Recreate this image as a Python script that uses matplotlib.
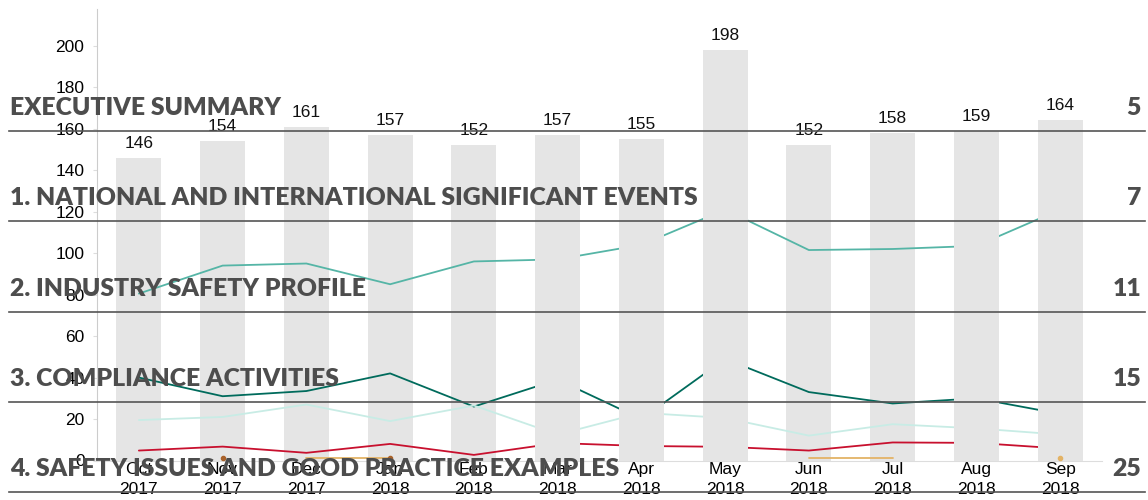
import numpy as np
import matplotlib
matplotlib.use("Agg")
import matplotlib.pyplot as plt
from matplotlib.lines import Line2D

# monthly data, Oct 2017 - Sep 2018
months = ["Oct\n2017", "Nov\n2017", "Dec\n2017", "Jan\n2018", "Feb\n2018", "Mar\n2018",
          "Apr\n2018", "May\n2018", "Jun\n2018", "Jul\n2018", "Aug\n2018", "Sep\n2018"]
totals = [146, 154, 161, 157, 152, 157, 155, 198, 152, 158, 159, 164]

teal = [80.5, 94, 95, 85, 96, 97, 104, 121, 101.5, 102, 103.5, 121]
dark_teal = [40, 31, 33.5, 42, 26, 39, 20, 49, 33, 27.5, 30, 22.5]
light_teal = [19.5, 21, 27, 19, 26.5, 12.5, 23, 20.5, 12, 17.5, 15.5, 12.5]
red = [4.8, 6.7, 3.7, 8, 2.7, 8.4, 7, 6.6, 4.8, 8.7, 8.5, 5.8]
gold = [np.nan, np.nan, 1, 1, np.nan, np.nan, np.nan, np.nan, 1, 1, np.nan, 1]
brown = [np.nan, 1, np.nan, 1, np.nan, np.nan, np.nan, np.nan, np.nan, np.nan, np.nan, np.nan]

# bars that were rendered over the lines in the source
bars_on_top = ["Mar\n2018", "Apr\n2018", "May\n2018", "Aug\n2018", "Sep\n2018"]

# table of contents text overlaid on the page
toc_titles = ["EXECUTIVE SUMMARY",
              "1. NATIONAL AND INTERNATIONAL SIGNIFICANT EVENTS",
              "2. INDUSTRY SAFETY PROFILE",
              "3. COMPLIANCE ACTIVITIES",
              "4. SAFETY ISSUES AND GOOD PRACTICE EXAMPLES"]
toc_pages = ["5", "7", "11", "15", "25"]

plt.rcParams['font.family'] = ['Liberation Sans', 'DejaVu Sans']

W, H = 1148, 500
fig = plt.figure(figsize=(W / 100, H / 100), dpi=100)
ax = fig.add_axes([97 / W, 1 - 460.5 / H, (1102 - 97) / W, (460.5 - 9.3) / H])

x = np.arange(len(months))
bars = ax.bar(x, totals, width=0.54, color="#e5e5e5", zorder=1)
for b, m in zip(bars, months):
    if m in bars_on_top:
        b.set_zorder(3)
for xi, v in zip(x, totals):
    ax.annotate(str(v), (xi, v), xytext=(0, 5), textcoords="offset points",
                ha="center", va="bottom", fontsize=12.5, color="#111111", zorder=6)


def plot_series(vals, color):
    vals = np.array(vals, dtype=float)
    ax.plot(x, vals, color=color, lw=1.3, zorder=2, solid_capstyle="round")
    # single points with no neighbours show as dots
    ok = ~np.isnan(vals)
    left = np.r_[False, ok[:-1]]
    right = np.r_[ok[1:], False]
    iso = ok & ~left & ~right
    ax.plot(x[iso], vals[iso], "o", color=color, ms=3, zorder=4)


plot_series(teal, "#55b5a6")
plot_series(dark_teal, "#006b5c")
plot_series(light_teal, "#c8ece5")
plot_series(red, "#c8102e")
plot_series(gold, "#e3b366")
plot_series(brown, "#a9622a")

ax.set_xlim(-0.5, 11.5)
ax.set_ylim(0, 217.6)
ax.set_yticks(np.arange(0, 201, 20))
ax.set_xticks(x)
ax.set_xticklabels(months)
for lab in ax.get_xticklabels():
    lab.set_linespacing(1.45)
ax.tick_params(axis="y", length=3, color="#dddddd", pad=6, labelsize=12.5)
ax.tick_params(axis="x", length=0, pad=1, labelsize=12.5)
for s in ["top", "right"]:
    ax.spines[s].set_visible(False)
ax.spines["left"].set_color("#cccccc")
ax.spines["bottom"].set_color("#dddddd")

# overlay: contents page text and rules
base0, rule0, step = 115, 131, 90.3
for i, (t, p) in enumerate(zip(toc_titles, toc_pages)):
    yb = 1 - (base0 + i * step) / H
    yr = 1 - (rule0 + i * step) / H
    fig.text(10 / W, yb, t, family=["Lato", "DejaVu Sans"], fontweight="heavy",
             fontsize=17.8, color="#4d4d4d", ha="left", va="baseline", zorder=10)
    fig.text(1141 / W, yb, p, family=["Lato", "DejaVu Sans"], fontweight="heavy",
             fontsize=17.8, color="#4d4d4d", ha="right", va="baseline", zorder=10)
    fig.add_artist(Line2D([9 / W, 1145 / W], [yr, yr], color="#555555", lw=1.2, zorder=9))

fig.savefig("out.png", dpi=100)
